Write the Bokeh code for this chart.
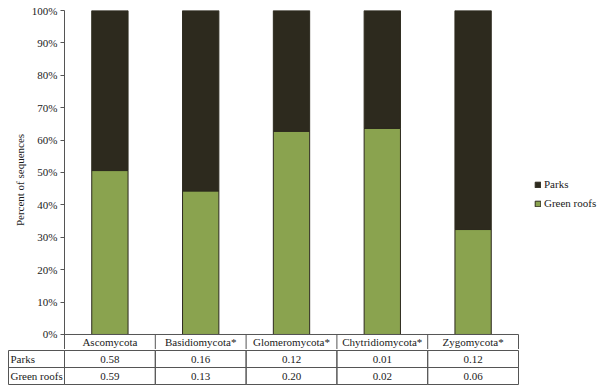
from bokeh.plotting import figure
from bokeh.models import (Range1d, FixedTicker, PrintfTickFormatter,
                          Legend, ColumnDataSource)
from bokeh.layouts import column
from bokeh.embed import file_html
from bokeh.resources import INLINE

# ---- data ----
categories = ["Ascomycota", "Basidiomycota*", "Glomeromycota*", "Chytridiomycota*", "Zygomycota*"]
green_pct = [50.6, 44.3, 62.7, 63.6, 32.4]
parks_pct = [49.4, 55.7, 37.3, 36.4, 67.6]
row_labels = ["Parks", "Green roofs"]
parks_table = ["0.58", "0.16", "0.12", "0.01", "0.12"]
green_table = ["0.59", "0.13", "0.20", "0.02", "0.06"]
y_ticks = [0, 10, 20, 30, 40, 50, 60, 70, 80, 90, 100]

FONT = "Liberation Serif"
DARK = "#2d2a1e"
GREEN = "#8aa34f"
TXT = "#1a1a1a"
GRID = "#555555"
HDR = -4.63   # bottom of header row (data units)
UNIT = 90.8   # pixels per category column

n = len(categories)
pos = [i + 0.5 for i in range(n)]

# ---- top chart ----
p = figure(x_range=Range1d(0, (599 - 64) / UNIT), y_range=Range1d(HDR, 100),
           width=599, height=349, output_backend="svg", toolbar_location=None,
           x_axis_location=None, min_border_left=64, min_border_right=0,
           min_border_top=10, min_border_bottom=0)
p.frame_align = False
p.outline_line_color = None
p.xgrid.visible = False
p.ygrid.visible = False

src = ColumnDataSource(dict(x=pos, cat=categories, green=green_pct, parks=parks_pct))
rs = p.vbar_stack(["green", "parks"], x="x", width=0.4, source=src,
                  color=[GREEN, DARK], line_color=DARK, line_width=1)

yax = p.yaxis[0]
yax.ticker = FixedTicker(ticks=y_ticks)
yax.formatter = PrintfTickFormatter(format="%d%%")
yax.axis_label = "Percent of sequences"
yax.axis_label_text_font = FONT
yax.axis_label_text_font_style = "normal"
yax.axis_label_text_font_size = "11px"
yax.axis_label_text_color = TXT
yax.axis_label_standoff = 3
yax.major_label_text_font = FONT
yax.major_label_text_font_size = "11px"
yax.major_label_text_color = TXT
yax.major_label_standoff = 3
yax.major_tick_out = 4
yax.major_tick_in = 0
yax.minor_tick_out = 0
yax.minor_tick_in = 0
yax.axis_line_color = GRID
yax.major_tick_line_color = GRID

# header row of the table (category names)
p.segment(x0=[0], y0=[0], x1=[n], y1=[0], line_color=GRID, line_width=1)
p.segment(x0=list(range(1, n + 1)), y0=[HDR] * n, x1=list(range(1, n + 1)), y1=[0] * n,
          line_color=GRID, line_width=1)
p.text(x=pos, y=[HDR / 2] * n, text=categories, text_align="center",
       text_baseline="middle", text_font=FONT, text_font_size="11px", text_color=TXT)

legend = Legend(items=[("Parks", [rs[1]]), ("Green roofs", [rs[0]])],
                location=(470, 139), orientation="vertical",
                glyph_width=7, glyph_height=7, label_standoff=3, spacing=5,
                label_height=14, padding=0, margin=0,
                label_text_font=FONT, label_text_font_size="11px",
                label_text_color=TXT, border_line_color=None,
                background_fill_alpha=0)
p.add_layout(legend, "center")

# ---- table rows ----
x_start = -57 / UNIT
x_end = n + 1 / UNIT
label_left = -56 / UNIT
t = figure(x_range=Range1d(x_start, x_end), y_range=Range1d(-1 / 17, 2 + 1 / 17),
           width=599, height=36, output_backend="svg", toolbar_location=None,
           x_axis_location=None, y_axis_location=None,
           min_border_left=7, min_border_right=80, min_border_top=0, min_border_bottom=0)
t.frame_align = False
t.outline_line_color = None
t.xgrid.visible = False
t.ygrid.visible = False

rows = [parks_table, green_table]
row_y = [1.5, 0.5]
cx, cy, cw, tx, ty, tt = [], [], [], [], [], []
for r, vals in enumerate(rows):
    cx.append(label_left / 2)
    cy.append(row_y[r])
    cw.append(-label_left)
    for i, v in enumerate(vals):
        cx.append(pos[i])
        cy.append(row_y[r])
        cw.append(1)
        tx.append(pos[i])
        ty.append(row_y[r])
        tt.append(v)
t.rect(x=cx, y=cy, width=cw, height=1, fill_color=None, line_color=GRID, line_width=1)
t.text(x=tx, y=ty, text=tt, text_align="center", text_baseline="middle",
       text_font=FONT, text_font_size="11px", text_color=TXT)
t.text(x=[label_left + 2 / UNIT] * 2, y=row_y, text=row_labels, text_align="left",
       text_baseline="middle", text_font=FONT, text_font_size="11px", text_color=TXT)

layout = column(p, t, spacing=0)
open("out.html", "w").write(file_html(layout, INLINE))
